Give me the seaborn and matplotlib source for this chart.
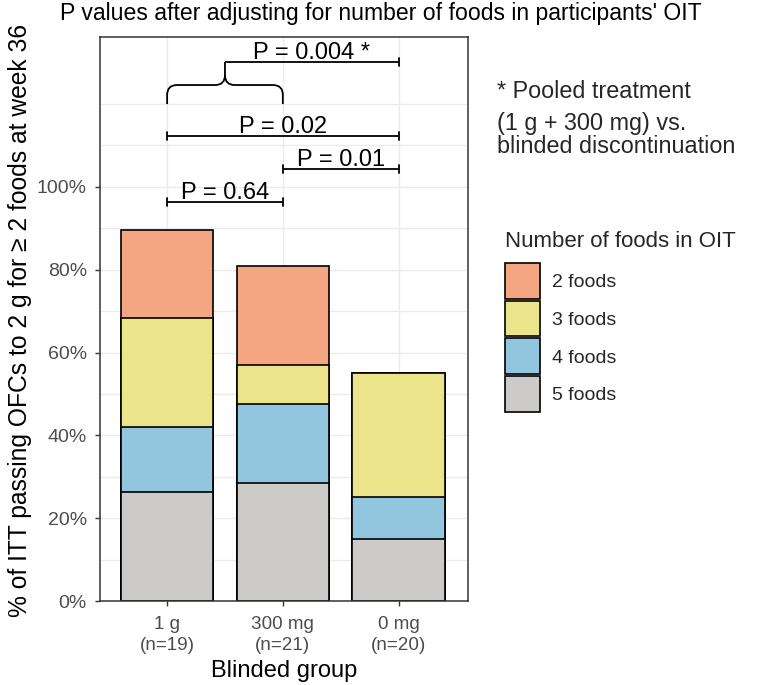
import numpy as np
import pandas as pd
import matplotlib
matplotlib.use("Agg")
import matplotlib.pyplot as plt
import matplotlib.patches as mpatches
from matplotlib.path import Path
import seaborn as sns

# ---- data ----
groups = ["1 g", "300 mg", "0 mg"]
group_labels = ["1 g\n(n=19)", "300 mg\n(n=21)", "0 mg\n(n=20)"]
foods_levels = ["2 foods", "3 foods", "4 foods", "5 foods"]
pct_5_foods = [26.3, 28.6, 15.0]
pct_4_foods = [15.8, 19.0, 10.0]
pct_3_foods = [26.3, 9.5, 30.0]
pct_2_foods = [21.1, 23.8, 0.0]
colors = {"2 foods": "#F4A582", "3 foods": "#ECE48A", "4 foods": "#92C5DE", "5 foods": "#CDCACA"}

pvals = ["P = 0.64", "P = 0.01", "P = 0.02", "P = 0.004 *"]

sns.set_theme(style="white")
plt.rcParams["font.family"] = ["Liberation Sans", "DejaVu Sans"]

df = pd.DataFrame({
    "group": groups,
    "5 foods": pct_5_foods,
    "4 foods": pct_4_foods,
    "3 foods": pct_3_foods,
    "2 foods": pct_2_foods,
})
df["c5"] = df["5 foods"]
df["c4"] = df["c5"] + df["4 foods"]
df["c3"] = df["c4"] + df["3 foods"]
df["c2"] = df["c3"] + df["2 foods"]

W, H = 757, 685
fig = plt.figure(figsize=(W / 100, H / 100), dpi=100)
L, R, T, B = 100, 468, 37, 601
ax = fig.add_axes([L / W, 1 - B / H, (R - L) / W, (B - T) / H])

for col, lev in [("c2", "2 foods"), ("c3", "3 foods"), ("c4", "4 foods"), ("c5", "5 foods")]:
    sns.barplot(data=df, x="group", y=col, order=groups, color=colors[lev],
                saturation=1, edgecolor="black", linewidth=1.2, width=0.8, ax=ax, zorder=3)

ax.set_xlim(-0.58, 2.6)
ax.set_ylim(0, 136.2)

# grid
grid_c = "#EBEBEB"
ax.set_yticks([0, 20, 40, 60, 80, 100])
ax.set_yticklabels(["0%", "20%", "40%", "60%", "80%", "100%"])
for yv in np.arange(0, 121, 10):
    ax.axhline(yv, color=grid_c, lw=1.0, zorder=0)
for xv in range(3):
    ax.axvline(xv, color=grid_c, lw=1.0, zorder=0)
ax.set_xticks(range(3))
ax.set_xticklabels(group_labels, linespacing=1.3)
ax.tick_params(axis="both", which="major", length=3.5, width=1.0, color="#333333",
               labelsize=14, labelcolor="#4D4D4D", direction="out", bottom=True, left=True)
ax.tick_params(axis="x", pad=7.5, labelsize=13.6)
ax.tick_params(axis="y", pad=6)
ax.set_xlabel("")
ax.set_ylabel("")
for s in ax.spines.values():
    s.set_color("#333333")
    s.set_linewidth(1.1)
    s.set_zorder(5)

# ---- significance brackets ----
lw_b = 1.3
tick_h = 0.9
ptext_fs = 17

def bracket(x0, x1, y, label, left_tick=True):
    ax.plot([x0, x1], [y, y], color="black", lw=lw_b, zorder=4, solid_capstyle="butt")
    if left_tick:
        ax.plot([x0, x0], [y - tick_h, y + tick_h], color="black", lw=lw_b, zorder=4)
    ax.plot([x1, x1], [y - tick_h, y + tick_h], color="black", lw=lw_b, zorder=4)
    ax.text((x0 + x1) / 2, y + 0.7, label, ha="center", va="baseline",
            fontsize=ptext_fs, color="black", zorder=4)

bracket(0, 1, 96.4, pvals[0])
bracket(1, 2, 104.3, pvals[1])
bracket(0, 2, 112.3, pvals[2])
bracket(0.5, 2, 130.2, pvals[3], left_tick=False)

# curly brace spanning 1 g and 300 mg
yb, yf, yc = 120.0, 124.6, 130.2
verts = [(0, yb), (0, 122.2), (0, yf), (0.085, yf), (0.415, yf), (0.5, yf), (0.5, 127.0), (0.5, yc),
         (1, yb), (1, 122.2), (1, yf), (0.915, yf), (0.585, yf), (0.5, yf), (0.5, 127.0)]
codes = [Path.MOVETO, Path.LINETO, Path.CURVE3, Path.CURVE3, Path.LINETO, Path.CURVE3, Path.CURVE3, Path.LINETO,
         Path.MOVETO, Path.LINETO, Path.CURVE3, Path.CURVE3, Path.LINETO, Path.CURVE3, Path.CURVE3]
ax.add_patch(mpatches.PathPatch(Path(verts, codes), fill=False, lw=lw_b, color="black", zorder=4))

# ---- texts ----
def fx(px):
    return px / W

def fy(py):
    return 1 - py / H

fig.text(fx(60), fy(20), "P values after adjusting for number of foods in participants' OIT",
         fontsize=16.6, ha="left", va="baseline", color="black")
fig.text(fx(20), fy(320), "% of ITT passing OFCs to 2 g for \u2265 2 foods at week 36",
         fontsize=17.7, rotation=90, ha="center", va="center", color="black")
fig.text(fx(284), fy(677), "Blinded group", fontsize=17, ha="center", va="baseline", color="black")

fig.text(fx(497), fy(98), "* Pooled treatment", fontsize=16.8, ha="left", va="baseline")
fig.text(fx(497), fy(130), "(1 g + 300 mg) vs.", fontsize=16.8, ha="left", va="baseline")
fig.text(fx(497), fy(153), "blinded discontinuation", fontsize=16.8, ha="left", va="baseline")

# ---- legend (drawn manually) ----
fig.text(fx(505), fy(247), "Number of foods in OIT", fontsize=16, ha="left", va="baseline")
key_x, key_w, key_h, key_top, key_pitch = 505, 35, 35.5, 263, 37.7
for i, lev in enumerate(foods_levels):
    top = key_top + i * key_pitch
    fig.add_artist(mpatches.Rectangle((fx(key_x), fy(top + key_h)), key_w / W, key_h / H,
                                      transform=fig.transFigure, facecolor=colors[lev],
                                      edgecolor="black", lw=1.2))
    fig.text(fx(552), fy(top + key_h / 2), lev, fontsize=14, ha="left", va="center_baseline")

fig.savefig("out.png", dpi=100)
